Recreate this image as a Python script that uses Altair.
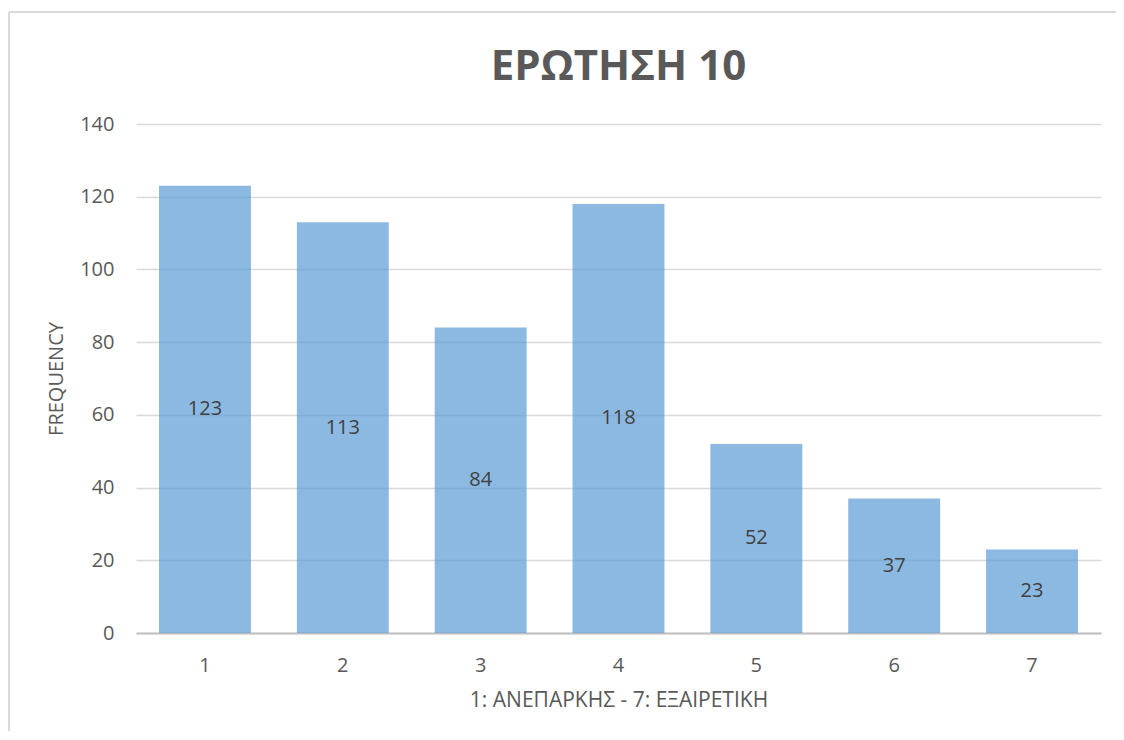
import altair as alt
import pandas as pd

categories = ["1", "2", "3", "4", "5", "6", "7"]
values = [123, 113, 84, 118, 52, 37, 23]
title_text = ["ΕΡΩΤΗΣΗ 10"]

df = pd.DataFrame({"cat": categories, "val": values})
df["half"] = df["val"] / 2

W, H = 965, 509
FONT = "Open Sans"
FS = 20

x = alt.X("cat:N", sort=categories,
          scale=alt.Scale(paddingInner=0.333, paddingOuter=0.167),
          axis=alt.Axis(title="1: ΑΝΕΠΑΡΚΗΣ - 7: ΕΞΑΙΡΕΤΙΚΗ", labelAngle=0,
                        labelFontSize=FS, labelColor="#595959", labelFont=FONT,
                        labelPadding=22, ticks=False, domainColor="#BFBFBF",
                        domainWidth=2, titleFontSize=21, titleColor="#595959",
                        titleFont=FONT, titleFontWeight="normal", titlePadding=14,
                        grid=False))

bars = alt.Chart(df).mark_bar(color="#5B9BD5", opacity=0.7).encode(
    x=x,
    y=alt.Y("val:Q", scale=alt.Scale(domain=[0, 140], nice=False),
            axis=alt.Axis(title="FREQUENCY", values=list(range(0, 141, 20)),
                          labelFontSize=FS, labelColor="#595959", labelFont=FONT,
                          labelPadding=22, ticks=False, domain=False,
                          gridColor="#D9D9D9", gridWidth=1.5,
                          titleFontSize=FS, titleColor="#595959", titleFont=FONT,
                          titleFontWeight="normal", titlePadding=13)),
)

labels = alt.Chart(df).mark_text(fontSize=FS, color="#404040", font=FONT,
                                 baseline="middle").encode(
    x=alt.X("cat:N", sort=categories),
    y=alt.Y("half:Q"),
    text=alt.Text("val:Q"),
)

one = pd.DataFrame({"a": [0]})
top_line = alt.Chart(one).mark_rule(color="#D9D9D9", strokeWidth=2).encode(
    x=alt.value(-127), x2=alt.value(W + 200), y=alt.value(-112))
left_line = alt.Chart(one).mark_rule(color="#D9D9D9", strokeWidth=2).encode(
    x=alt.value(-127), y=alt.value(-112), y2=alt.value(H + 200))

title = alt.Chart(pd.DataFrame({"t": title_text})).mark_text(
    fontSize=42, font=FONT, fontWeight="bold", color="#595959",
    baseline="alphabetic", align="center").encode(
    x=alt.value(W / 2), y=alt.value(-44), text="t:N")

chart = alt.layer(top_line, left_line, bars, labels, title).properties(
    width=W, height=H,
    autosize=alt.AutoSizeParams(type="none"),
    padding={"left": 128, "top": 116, "right": 15, "bottom": 98},
).configure_view(stroke=None)

chart.save("out.html", embed_options={"renderer": "svg", "actions": False})
